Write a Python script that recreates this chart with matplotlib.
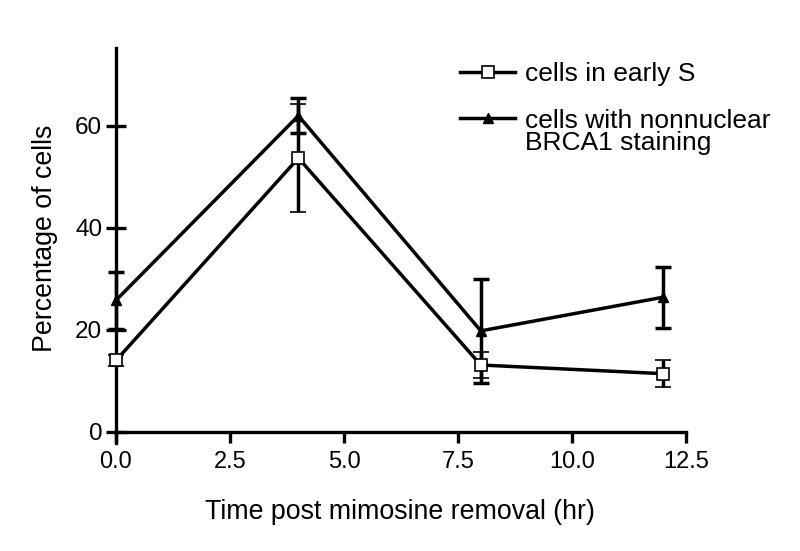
import matplotlib
matplotlib.use("Agg")
import matplotlib.pyplot as plt
from matplotlib.legend_handler import HandlerLine2D

plt.rcParams['font.family'] = ['Liberation Sans', 'DejaVu Sans']

time_hr = [0, 4, 8, 12]
early_s = [14.0, 53.7, 13.1, 11.4]
early_s_err = [1.0, 10.6, 2.5, 2.7]
nonnuclear = [25.8, 62.0, 19.8, 26.4]
nonnuclear_err = [5.6, 3.4, 10.2, 6.0]
xticks = [0.0, 2.5, 5.0, 7.5, 10.0, 12.5]
yticks = [0, 20, 40, 60]


class RaisedHandler(HandlerLine2D):
    def __init__(self, shift, **kw):
        super().__init__(**kw)
        self.shift = shift

    def create_artists(self, legend, orig_handle, xdescent, ydescent,
                       width, height, fontsize, trans):
        return super().create_artists(legend, orig_handle, xdescent,
                                      ydescent - self.shift, width, height,
                                      fontsize, trans)


fig = plt.figure(figsize=(8, 5.51), dpi=100)
ax = fig.add_axes([0.145, 0.196, 0.7125, 0.717])

lw = 2.5
ax.errorbar(time_hr, early_s, yerr=early_s_err, color='black', lw=lw,
            elinewidth=lw, capsize=5.5, capthick=lw, marker='s', ms=8.5,
            mfc='white', mec='black', mew=1.2, clip_on=False, zorder=3,
            label='cells in early S')
ax.errorbar(time_hr, nonnuclear, yerr=nonnuclear_err, color='black', lw=lw,
            elinewidth=lw, capsize=5.5, capthick=lw, marker='^', ms=7,
            mfc='black', mec='black', clip_on=False, zorder=3,
            label='cells with nonnuclear\nBRCA1 staining')

ax.set_xlim(0, 12.5)
ax.set_ylim(-2.2, 75.3)
ax.spines['top'].set_visible(False)
ax.spines['right'].set_visible(False)
ax.spines['bottom'].set_position(('data', 0))
ax.spines['left'].set_linewidth(2.4)
ax.spines['bottom'].set_linewidth(2.4)
ax.set_xticks(xticks)
ax.set_xticklabels([f"{v:.1f}" for v in xticks])
ax.set_yticks(yticks)
ax.tick_params(axis='x', direction='out', length=8, width=2.4, labelsize=17, pad=6)
ax.tick_params(axis='y', direction='inout', length=13.7, width=2.4, labelsize=17.5, pad=3)

fig.text(0.5, 0.047, 'Time post mimosine removal (hr)', ha='center', va='bottom', fontsize=19.3)
fig.text(0.056, 0.568, 'Percentage of cells', rotation=90, ha='center', va='center', fontsize=19.3)

h, l = ax.get_legend_handles_labels()
h = [hh[0] for hh in h]
leg = fig.legend(h, l, loc='upper left', bbox_to_anchor=(0.575, 0.887), frameon=False,
                 fontsize=19, handlelength=2.1, handletextpad=0.38, labelspacing=0.85,
                 borderaxespad=0, borderpad=0,
                 handler_map={h[1]: RaisedHandler(shift=20.0)})
for t in leg.get_texts():
    t.set_linespacing(0.9)
fig.savefig('out.png', dpi=100)
